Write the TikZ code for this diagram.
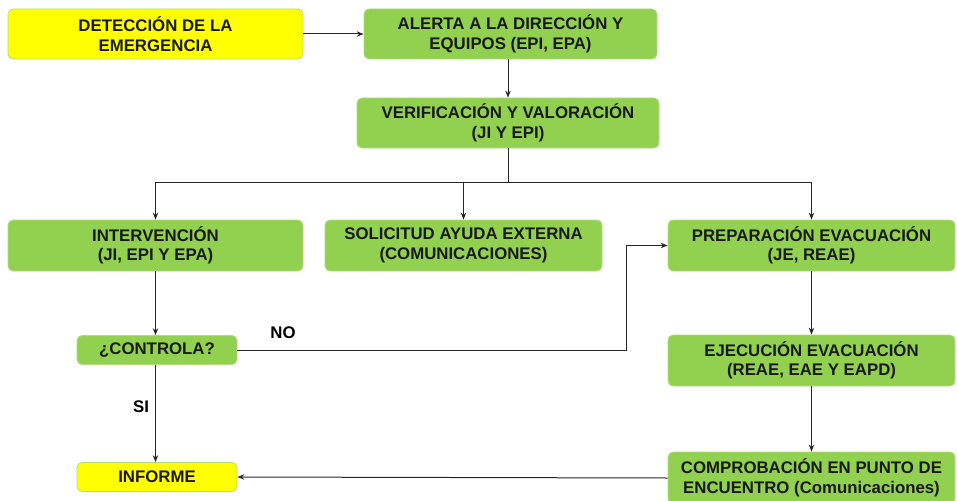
\documentclass[tikz,border=0pt]{standalone}
\usepackage{fontspec}
\setmainfont{Liberation Sans}
\usetikzlibrary{arrows.meta}
\definecolor{verde}{HTML}{92D050}
\definecolor{amarillo}{HTML}{FFFF00}
\definecolor{bordeverde}{HTML}{B2DB7E}
\definecolor{linea}{HTML}{262626}
\begin{document}
\begin{tikzpicture}[x=1pt,y=-1pt,font=\fontsize{16.8}{19.5}\selectfont\bfseries]
        \tikzstyle{paso}=[rectangle,rounded corners=5pt,draw=bordeverde,line width=0.8pt,fill=verde,align=center,inner sep=0pt,text=black!90]
        \tikzstyle{extremo}=[paso,fill=amarillo]
        \tikzstyle{edge}=[draw,color=linea,line width=1pt,-{Stealth[length=7pt,width=5.5pt,inset=2.5pt]}]
        \tikzstyle{linea}=[draw,color=linea,line width=1pt]
        \useasboundingbox (0,0) rectangle (957,500);
       \begin{scope}
         \node [extremo,minimum width=295pt,minimum height=50pt] (deteccion) at (155.5,34) {DETECCIÓN DE LA\\EMERGENCIA};
         \node [paso,minimum width=293pt,minimum height=50pt] (alerta) at (510.5,34) {ALERTA A LA DIRECCIÓN Y\\EQUIPOS (EPI, EPA)};
         \node [paso,minimum width=302pt,minimum height=50pt] (verif) at (508,123) {VERIFICACIÓN Y VALORACIÓN\\(JI Y EPI)};
         \node [paso,minimum width=295pt,minimum height=51pt] (interv) at (155.5,245.5) {INTERVENCIÓN\\(JI, EPI Y EPA)};
         \node [paso,minimum width=277pt,minimum height=51pt] (solicitud) at (463.5,245.5) {SOLICITUD AYUDA EXTERNA\\(COMUNICACIONES)};
         \node [paso,minimum width=287pt,minimum height=51pt] (prep) at (811.5,245.5) {PREPARACIÓN EVACUACIÓN\\(JE, REAE)};
         \node [paso,minimum width=160pt,minimum height=29pt] (controla) at (157,350) {¿CONTROLA?};
         \node [paso,minimum width=287pt,minimum height=51pt] (ejec) at (811.5,360.5) {EJECUCIÓN EVACUACIÓN\\(REAE, EAE Y EAPD)};
         \node [extremo,minimum width=160pt,minimum height=29pt] (informe) at (157,477) {INFORME};
         \node [paso,minimum width=287pt,minimum height=52pt] (comprob) at (811.5,478) {COMPROBACIÓN EN PUNTO DE\\ENCUENTRO (Comunicaciones)};
         \node (no) at (283,333) {NO};
         \node (si) at (141,407) {SI};
         \coordinate (reparto) at (508,182);
         \coordinate (retorno) at (626,350);

         \path[edge] (deteccion) -- (alerta);
         \path[edge] (verif.north |- alerta.south) -- (verif.north);
         \path[linea] (verif.south) -- (reparto);
         \path[edge] (reparto) -| (interv.north);
         \path[edge] (reparto) -| (solicitud.north);
         \path[edge] (reparto) -| (prep.north);
         \path[edge] (interv.south) -- (interv.south |- controla.north);
         \path[edge] (controla.east) -- (retorno) |- (prep.west);
         \path[edge] (interv.south |- controla.south) -- (interv.south |- informe.north);
         \path[edge] (prep.south) -- (ejec.north);
         \path[edge] (ejec.south) -- (comprob.north);
         \path[edge] (comprob.west) -- (informe.east);
        \end{scope}
      \end{tikzpicture}
\end{document}
